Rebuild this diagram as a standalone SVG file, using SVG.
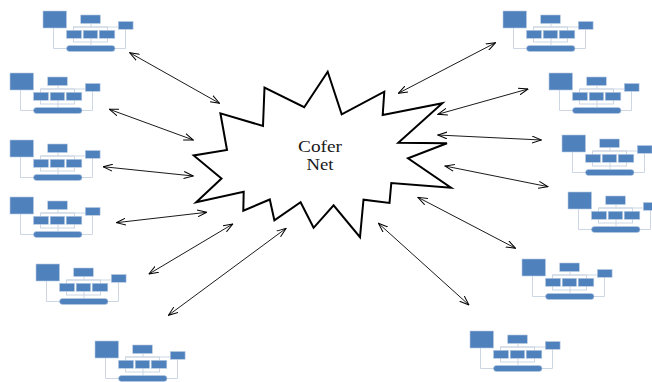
<svg xmlns="http://www.w3.org/2000/svg" xmlns:xlink="http://www.w3.org/1999/xlink" width="652" height="382" viewBox="0 0 652 382">
  <style>
    .box { fill: #4f81bd; stroke: #b9cbe3; stroke-width: 0.6; }
    .wire { fill: none; stroke: #cdd6e3; stroke-width: 1; }
    .link { fill: none; stroke: #000; stroke-width: 0.9; marker-start: url(#head); marker-end: url(#head); }
    .star { fill: #fff; stroke: #000; stroke-width: 2; stroke-linejoin: miter; }
    .title { font-family: "Liberation Serif", "Times New Roman", serif; font-size: 17px; fill: #1a1a1a; text-anchor: middle; }
  </style>
  <defs>
    <marker id="head" viewBox="0 0 10 8" refX="9.5" refY="4" markerWidth="10" markerHeight="8" markerUnits="userSpaceOnUse" orient="auto-start-reverse">
      <path d="M0,0.5 L9.5,4 L0,7.5" fill="none" stroke="#000" stroke-width="1"/>
    </marker>
    <!-- small organisation chart reused by every satellite node -->
    <g id="orgchart">
      <path class="wire" d="M10.5,17 V37.5 H24 M82.5,18 V37.5 H72 M48,12.5 V16 M30.5,16 H75.5 M48,27 V34.5"/>
      <rect class="wire" x="30.5" y="16" width="34" height="15"/>
      <rect class="box" x="0" y="0" width="23.5" height="17"/>
      <rect class="box" x="37.7" y="4" width="19.6" height="8.5"/>
      <rect class="box" x="75.3" y="10.5" width="14.8" height="7.8"/>
      <rect class="box" x="23.5" y="19.3" width="15" height="8"/>
      <rect class="box" x="40.2" y="19.3" width="14.4" height="8"/>
      <rect class="box" x="56.2" y="19.3" width="15.6" height="8"/>
      <rect class="box" x="23.5" y="34.5" width="48.5" height="6" rx="3" ry="3"/>
    </g>
  </defs>

  <g id="connectors">
    <line class="link" x1="129.7" y1="52.7" x2="219.5" y2="103.3"/>
    <line class="link" x1="109.4" y1="109.3" x2="193.3" y2="140"/>
    <line class="link" x1="103.1" y1="166.7" x2="193.3" y2="176"/>
    <line class="link" x1="116.4" y1="222.7" x2="206.7" y2="212.3"/>
    <line class="link" x1="148.9" y1="274" x2="232.8" y2="224"/>
    <line class="link" x1="168.4" y1="315.3" x2="286.1" y2="228.3"/>
    <line class="link" x1="495.6" y1="42.7" x2="398.3" y2="93.3"/>
    <line class="link" x1="528" y1="89" x2="437.8" y2="114.3"/>
    <line class="link" x1="437.8" y1="135" x2="541.4" y2="140"/>
    <line class="link" x1="444.9" y1="166" x2="548" y2="186.7"/>
    <line class="link" x1="417.9" y1="197.3" x2="515.6" y2="248.3"/>
    <line class="link" x1="378.4" y1="223.3" x2="469" y2="305"/>
  </g>

  <g id="hub">
    <polygon class="star" points="327.7,71.7 341.7,114.3 384.3,91.7 382.7,115 442.3,103.3 398.3,142.7 447,143.3 408,158.3 451,187.7 391.3,183 389.5,203 363.5,199.7 360,237.2 333.6,205.3 313.6,227.8 300.6,202.2 274.4,220.4 269.8,199.5 243.3,210.7 243.7,191.8 196.2,202.2 221.5,178.6 193.7,155.4 227,150 220.4,113.3 263,126 264.5,87.5 304.2,107.2"/>
    <text class="title" x="320" y="152" textLength="44" lengthAdjust="spacingAndGlyphs">Cofer</text>
    <text class="title" x="320" y="170" textLength="27" lengthAdjust="spacingAndGlyphs">Net</text>
  </g>

  <g id="node-l1" transform="translate(43,11)"><use xlink:href="#orgchart"/></g>
  <g id="node-l2" transform="translate(10,73)"><use xlink:href="#orgchart"/></g>
  <g id="node-l3" transform="translate(10,140)"><use xlink:href="#orgchart"/></g>
  <g id="node-l4" transform="translate(10,197)"><use xlink:href="#orgchart"/></g>
  <g id="node-l5" transform="translate(36,264)"><use xlink:href="#orgchart"/></g>
  <g id="node-l6" transform="translate(95,341)"><use xlink:href="#orgchart"/></g>
  <g id="node-r1" transform="translate(503,11)"><use xlink:href="#orgchart"/></g>
  <g id="node-r2" transform="translate(549,73)"><use xlink:href="#orgchart"/></g>
  <g id="node-r3" transform="translate(562,135)"><use xlink:href="#orgchart"/></g>
  <g id="node-r4" transform="translate(568,192)"><use xlink:href="#orgchart"/></g>
  <g id="node-r5" transform="translate(522,259)"><use xlink:href="#orgchart"/></g>
  <g id="node-r6" transform="translate(470,331)"><use xlink:href="#orgchart"/></g>
</svg>
